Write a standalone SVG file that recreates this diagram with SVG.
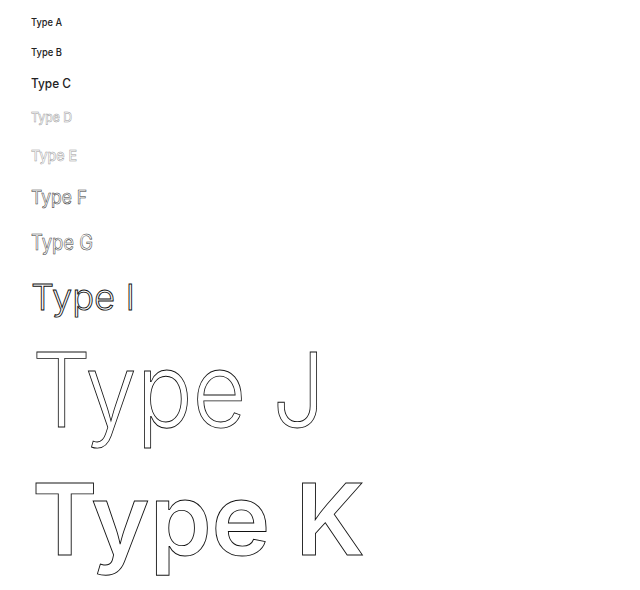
<svg xmlns="http://www.w3.org/2000/svg" width="640" height="590" viewBox="0 0 640 590">
<style>
text{font-family:Inter,"Noto Sans","Liberation Sans",sans-serif}
.solid{fill:#222;font-weight:500}
.grey{fill:#fff;stroke:#999;stroke-width:0.5;font-weight:500}
.dark{fill:#fff;stroke:#333;stroke-width:0.55;font-weight:400}
.outline{fill:#fff;stroke:#111;stroke-width:0.9}
</style>
<rect width="640" height="590" fill="#fff"/>
<g id="type-a"><text class="solid" x="31" y="26" font-size="10" textLength="31" lengthAdjust="spacingAndGlyphs">Type A</text></g>
<g id="type-b"><text class="solid" x="31" y="56" font-size="11" textLength="31" lengthAdjust="spacingAndGlyphs">Type B</text></g>
<g id="type-c"><text class="solid" x="31" y="88" font-size="12.5" textLength="40" lengthAdjust="spacingAndGlyphs">Type C</text></g>
<g id="type-d"><text class="grey" x="31" y="122" font-size="13.5" textLength="41" lengthAdjust="spacingAndGlyphs">Type D</text></g>
<g id="type-e"><text class="grey" x="31" y="161" font-size="15" textLength="46" lengthAdjust="spacingAndGlyphs">Type E</text></g>
<g id="type-f"><text class="dark" x="31" y="204" font-size="19" textLength="56" lengthAdjust="spacingAndGlyphs">Type F</text></g>
<g id="type-g"><text class="dark" x="31" y="250" font-size="21" textLength="62" lengthAdjust="spacingAndGlyphs">Type G</text></g>
<g id="type-i"><text class="outline" x="31" y="310" font-size="36" font-weight="300" stroke-width="0.5" textLength="104" lengthAdjust="spacingAndGlyphs">Type I</text></g>
<g id="type-j"><text class="outline" x="32" y="427" font-size="103" font-weight="300" textLength="293" lengthAdjust="spacingAndGlyphs">Type J</text></g>
<g id="type-k"><text class="outline" x="32" y="555" font-size="99" font-weight="600" textLength="333" lengthAdjust="spacingAndGlyphs">Type K</text></g>
</svg>
